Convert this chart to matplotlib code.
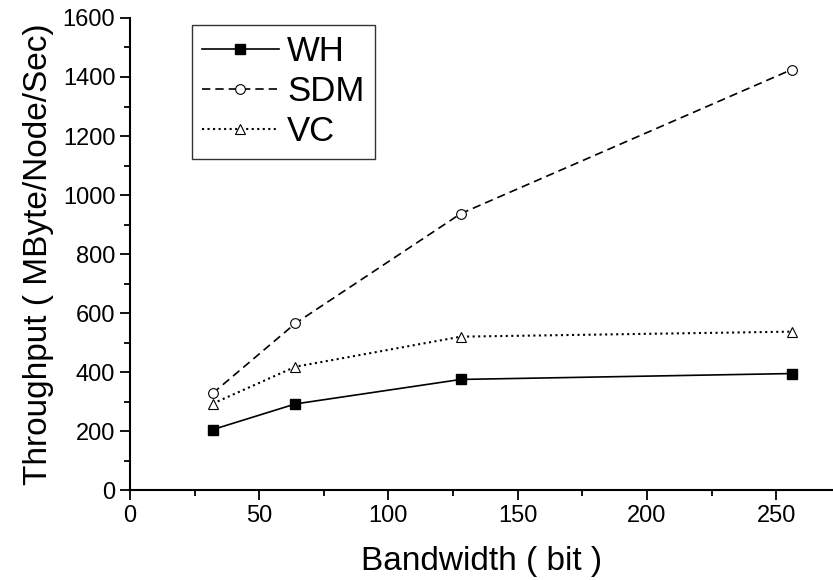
import matplotlib.pyplot as plt
from matplotlib.ticker import MultipleLocator

plt.rcParams['font.family'] = ['Liberation Sans', 'DejaVu Sans']

bandwidth = [32, 64, 128, 256]
wh = [205, 292, 375, 395]
sdm = [328, 565, 937, 1425]
vc = [293, 418, 520, 537]

fig = plt.figure(figsize=(8.33, 5.8), dpi=100)
ax = fig.add_axes([0.156, 0.155, 0.844, 0.814])

ax.plot(bandwidth, wh, '-', color='black', lw=1.2, marker='s', ms=7,
        mfc='black', mec='black', label='WH')
ax.plot(bandwidth, sdm, '--', color='black', lw=1.2, marker='o', ms=7,
        mfc='white', mec='black', mew=0.8, dashes=(5, 3), label='SDM')
ax.plot(bandwidth, vc, ':', color='black', lw=1.5, marker='^', ms=7,
        mfc='white', mec='black', mew=0.8, label='VC')

ax.set_xlim(0, 272)
ax.set_ylim(0, 1600)
ax.xaxis.set_major_locator(MultipleLocator(50))
ax.xaxis.set_minor_locator(MultipleLocator(25))
ax.yaxis.set_major_locator(MultipleLocator(200))
ax.yaxis.set_minor_locator(MultipleLocator(100))

ax.spines['top'].set_visible(False)
ax.spines['right'].set_visible(False)
ax.spines['left'].set_linewidth(1.5)
ax.spines['bottom'].set_linewidth(1.5)
ax.tick_params(which='major', direction='out', length=7, width=1.3, labelsize=17)
ax.tick_params(which='minor', direction='out', length=4, width=1.3)

ax.set_xlabel('Bandwidth ( bit )', fontsize=24, labelpad=14)
ax.set_ylabel('Throughput ( MByte/Node/Sec)', fontsize=24, labelpad=6)

leg = ax.legend(loc='upper left', bbox_to_anchor=(0.088, 0.985), fontsize=25,
                frameon=True, fancybox=False, edgecolor='black',
                handlelength=2.2, handletextpad=0.25, borderpad=0.3,
                labelspacing=0.2, borderaxespad=0)
leg.get_frame().set_linewidth(1.0)

fig.savefig('out.png', dpi=100)
